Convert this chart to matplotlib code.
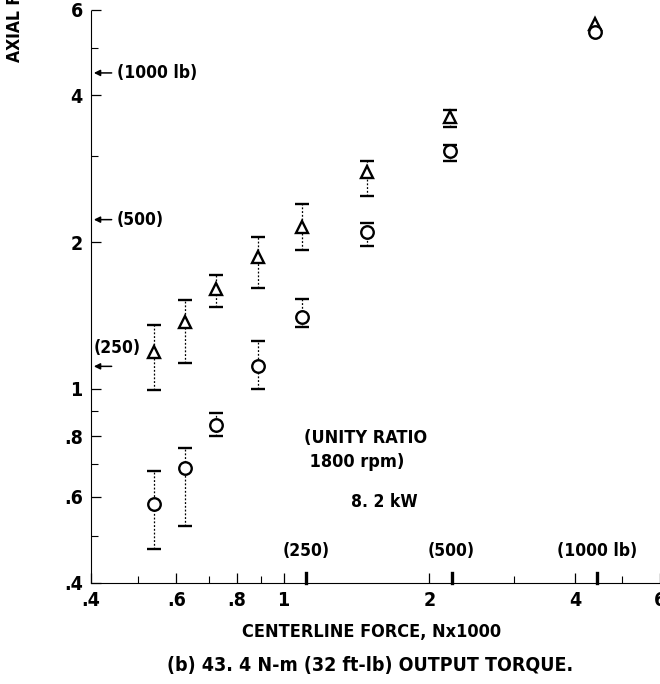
import numpy as np
import matplotlib
matplotlib.use("Agg")
import matplotlib.pyplot as plt

plt.rcParams['font.family'] = ['DejaVu Sans']
plt.rcParams['font.stretch'] = 'condensed'
plt.rcParams['font.weight'] = 'bold'

# centerline force, N x 1000
force = [0.54, 0.625, 0.725, 0.885, 1.09, 1.49, 2.21, 4.40]

# triangles: mean, upper, lower
tri_mid = [1.19, 1.37, 1.60, 1.86, 2.15, 2.78, 3.62, 5.60]
tri_hi = [1.35, 1.525, 1.71, 2.05, 2.40, 2.93, 3.74, None]
tri_lo = [0.996, 1.13, 1.475, 1.61, 1.93, 2.49, 3.44, None]

# circles: mean, upper, lower
circ_mid = [0.581, 0.689, 0.844, 1.116, 1.407, 2.093, 3.07, 5.39]
circ_hi = [0.679, 0.757, 0.894, 1.256, 1.532, 2.194, 3.17, None]
circ_lo = [0.470, 0.524, 0.802, 1.001, 1.342, 1.959, 2.93, None]

major_ticks = [0.4, 0.6, 0.8, 1, 2, 4, 6]
major_labels = ['.4', '.6', '.8', '1', '2', '4', '6']
x_minor = [0.5, 0.7, 0.9, 3, 5]
y_minor = [0.5, 0.7, 0.9, 3, 5]

# pound markers (kN values)
lb_vals = [1.112, 2.224, 4.448]
lb_x_labels = ['(250)', '(500)', '(1000 lb)']
lb_y_labels = ['(250)', '(500)', '(1000 lb)']


def errs(mid, hi, lo):
    m = np.array(mid, dtype=float)
    h = np.array([np.nan if v is None else v for v in hi], dtype=float)
    l = np.array([np.nan if v is None else v for v in lo], dtype=float)
    return np.vstack([m - l, h - m])


fig = plt.figure(figsize=(6.6, 6.84), dpi=100)
ax = fig.add_axes([0.138, 0.148, 0.862, 0.838])
ax.set_xscale('log')
ax.set_yscale('log')
ax.set_xlim(0.4, 6.0)
ax.set_ylim(0.4, 6.0)

for mid, hi, lo, mk, ms in [(tri_mid, tri_hi, tri_lo, '^', 8),
                            (circ_mid, circ_hi, circ_lo, 'o', 9)]:
    cont = ax.errorbar(force, mid, yerr=errs(mid, hi, lo), fmt=mk, ms=ms,
                       mfc='white', mec='black', mew=1.7, ecolor='black',
                       elinewidth=0.9, capsize=5, capthick=1.5, zorder=3)
    for lc in cont[2]:
        lc.set_linestyle((0, (1.5, 1.5)))

ax.spines['top'].set_visible(False)
ax.spines['right'].set_visible(False)
ax.spines['left'].set_linewidth(0.8)
ax.spines['bottom'].set_linewidth(0.8)
ax.spines['left'].set_linestyle((0, (3, 1)))
ax.spines['bottom'].set_linestyle((0, (3, 1)))

ax.set_xticks(major_ticks)
ax.set_xticklabels(major_labels)
ax.set_yticks(major_ticks)
ax.set_yticklabels(major_labels)
ax.set_xticks(x_minor, minor=True)
ax.set_yticks(y_minor, minor=True)
ax.xaxis.set_minor_formatter(plt.NullFormatter())
ax.yaxis.set_minor_formatter(plt.NullFormatter())
ax.tick_params(which='major', direction='in', length=7, width=0.9,
               labelsize=14, pad=6)
ax.tick_params(which='minor', direction='in', length=5, width=0.8)
for lab in ax.get_xticklabels() + ax.get_yticklabels():
    lab.set_fontweight('bold')

# pound reference marks
for v, s in zip(lb_vals, lb_x_labels):
    ax.plot([v, v], [0.4, 0.418], color='black', lw=2.4, clip_on=False)
    ax.text(v, 0.445, s, ha='center', va='bottom', fontsize=12.5,
            fontweight='bold')

for v in lb_vals:
    ax.annotate('', xy=(0.4, v), xytext=(0.447, v),
                arrowprops=dict(arrowstyle='-|>', color='black', lw=1.1,
                                mutation_scale=9), annotation_clip=False)
ax.text(0.405, 1.16, lb_y_labels[0], ha='left', va='bottom', fontsize=12.5,
        fontweight='bold')
ax.text(0.452, lb_vals[1], lb_y_labels[1], ha='left', va='center',
        fontsize=12.5, fontweight='bold')
ax.text(0.452, lb_vals[2], lb_y_labels[2], ha='left', va='center',
        fontsize=12.5, fontweight='bold')

ax.text(1.1, 0.748, '(UNITY RATIO\n 1800 rpm)', ha='left', va='center',
        fontsize=13, fontweight='bold', linespacing=1.45)
ax.text(1.38, 0.585, '8. 2 kW', ha='left', va='center', fontsize=12.5,
        fontweight='bold')

fig.text(372 / 660, 1 - 632 / 684, 'CENTERLINE FORCE, Nx1000', ha='center',
         va='center', fontsize=13, fontweight='bold')
fig.text(370 / 660, 1 - 665 / 684, '(b) 43. 4 N-m (32 ft-lb) OUTPUT TORQUE.',
         ha='center', va='center', fontsize=14, fontweight='bold')
fig.text(15 / 660, 1 - 62 / 684, 'AXIAL FORCE, Nx1000', rotation=90,
         ha='center', va='bottom', fontsize=12.5, fontweight='bold')

fig.savefig('out.png', dpi=100)
